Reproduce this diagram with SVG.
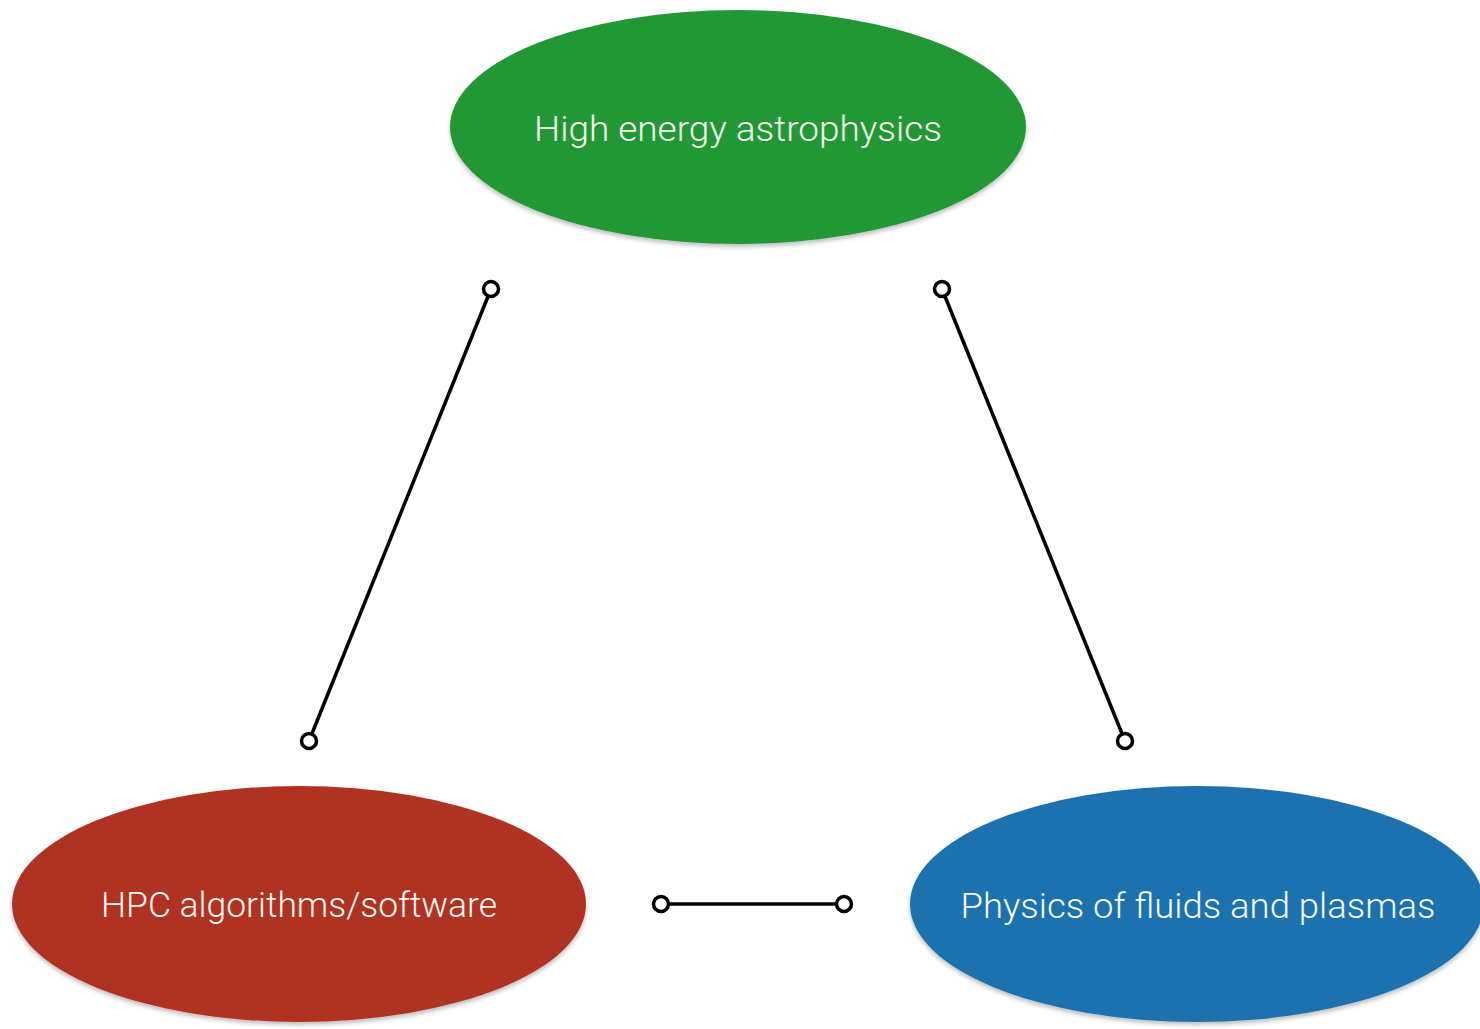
<svg xmlns="http://www.w3.org/2000/svg" width="1480" height="1029" viewBox="0 0 1480 1029">
  <defs>
    <filter id="shadow" x="-10%" y="-10%" width="120%" height="130%">
      <feGaussianBlur in="SourceAlpha" stdDeviation="2"/>
      <feOffset dx="0" dy="3" result="b"/>
      <feComponentTransfer><feFuncA type="linear" slope="0.25"/></feComponentTransfer>
      <feMerge><feMergeNode/><feMergeNode in="SourceGraphic"/></feMerge>
    </filter>
  </defs>
  <style>
    .label { font-family: Roboto, "Liberation Sans", sans-serif; font-weight: 300; font-size: 35px; fill: #f7f7f2; text-anchor: middle; }
    .link { stroke: #000; stroke-width: 3.5; fill: none; }
    .end { stroke: #000; stroke-width: 3.5; fill: #fff; }
  </style>
  <rect width="1480" height="1029" fill="#fff"/>

  <g id="node-astro">
    <ellipse cx="738" cy="127" rx="288" ry="117" fill="#229834" filter="url(#shadow)"/>
    <text class="label" x="738" y="141" textLength="408" lengthAdjust="spacingAndGlyphs">High energy astrophysics</text>
  </g>

  <g id="node-hpc">
    <ellipse cx="299" cy="904" rx="287" ry="118" fill="#b03323" filter="url(#shadow)"/>
    <text class="label" x="299" y="917" textLength="396" lengthAdjust="spacingAndGlyphs">HPC algorithms/software</text>
  </g>

  <g id="node-fluids">
    <ellipse cx="1197" cy="904" rx="287" ry="118" fill="#1e72ae" filter="url(#shadow)"/>
    <text class="label" x="1198" y="918" textLength="475" lengthAdjust="spacingAndGlyphs">Physics of fluids and plasmas</text>
  </g>

  <g id="connectors">
    <line class="link" x1="491" y1="289" x2="309" y2="741"/>
    <circle class="end" cx="491" cy="289" r="7.5"/>
    <circle class="end" cx="309" cy="741" r="7.5"/>

    <line class="link" x1="942" y1="289" x2="1125" y2="741"/>
    <circle class="end" cx="942" cy="289" r="7.5"/>
    <circle class="end" cx="1125" cy="741" r="7.5"/>

    <line class="link" x1="661" y1="904" x2="844" y2="904"/>
    <circle class="end" cx="661" cy="904" r="7.5"/>
    <circle class="end" cx="844" cy="904" r="7.5"/>
  </g>
</svg>
